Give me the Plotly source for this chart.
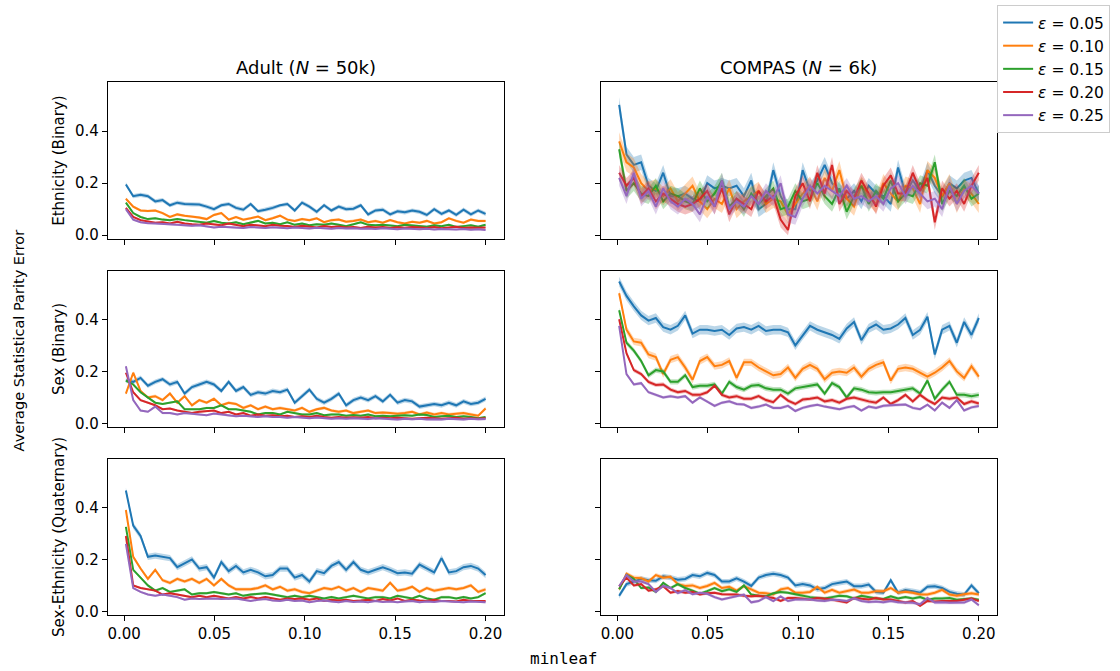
import plotly.graph_objects as go

# minleaf sweep: 50 evenly spaced settings from 0.001 to 0.2
MINLEAF = [round(0.001 + i * 0.199 / 49, 5) for i in range(50)]

EPSILONS = ["0.05", "0.10", "0.15", "0.20", "0.25"]
COLORS = ["#1f77b4", "#ff7f0e", "#2ca02c", "#d62728", "#9467bd"]
DATASETS = ["Adult (<i>N</i> = 50k)", "COMPAS (<i>N</i> = 6k)"]
ATTRIBUTES = ["Ethnicity (Binary)", "Sex (Binary)", "Sex-Ethnicity (Quaternary)"]
X_TICKS = [0.0, 0.05, 0.10, 0.15, 0.20]
Y_TICKS = [0.0, 0.2, 0.4]

# ---------------- Adult, Ethnicity (Binary) ----------------
ADULT_ETH_005 = [0.195, 0.150, 0.155, 0.150, 0.130, 0.135, 0.115, 0.125, 0.120, 0.118,
                 0.118, 0.110, 0.100, 0.115, 0.120, 0.105, 0.098, 0.120, 0.092, 0.098,
                 0.105, 0.115, 0.120, 0.095, 0.125, 0.110, 0.090, 0.115, 0.095, 0.110,
                 0.100, 0.102, 0.115, 0.080, 0.095, 0.098, 0.080, 0.092, 0.088, 0.095,
                 0.090, 0.078, 0.100, 0.082, 0.095, 0.078, 0.098, 0.080, 0.095, 0.082]
ADULT_ETH_010 = [0.140, 0.110, 0.095, 0.093, 0.095, 0.085, 0.070, 0.080, 0.075, 0.072,
                 0.068, 0.062, 0.078, 0.085, 0.060, 0.070, 0.060, 0.065, 0.072, 0.058,
                 0.065, 0.075, 0.060, 0.055, 0.062, 0.058, 0.065, 0.050, 0.058, 0.060,
                 0.052, 0.055, 0.060, 0.050, 0.055, 0.048, 0.058, 0.050, 0.045, 0.052,
                 0.048, 0.055, 0.045, 0.050, 0.065, 0.055, 0.048, 0.060, 0.055, 0.055]
ADULT_ETH_015 = [0.125, 0.085, 0.070, 0.062, 0.065, 0.060, 0.058, 0.062, 0.058, 0.055,
                 0.050, 0.048, 0.055, 0.048, 0.045, 0.050, 0.042, 0.048, 0.055, 0.045,
                 0.048, 0.042, 0.050, 0.040, 0.045, 0.038, 0.042, 0.040, 0.045, 0.040,
                 0.035, 0.042, 0.050, 0.040, 0.038, 0.040, 0.038, 0.035, 0.040, 0.038,
                 0.035, 0.033, 0.038, 0.035, 0.040, 0.032, 0.035, 0.038, 0.033, 0.040]
ADULT_ETH_020 = [0.105, 0.070, 0.058, 0.052, 0.048, 0.050, 0.045, 0.052, 0.045, 0.042,
                 0.040, 0.045, 0.042, 0.038, 0.045, 0.040, 0.035, 0.040, 0.038, 0.035,
                 0.040, 0.036, 0.035, 0.032, 0.036, 0.033, 0.030, 0.035, 0.032, 0.034,
                 0.030, 0.032, 0.028, 0.033, 0.030, 0.032, 0.028, 0.031, 0.029, 0.032,
                 0.030, 0.028, 0.032, 0.027, 0.030, 0.033, 0.028, 0.030, 0.029, 0.030]
ADULT_ETH_025 = [0.100, 0.060, 0.050, 0.046, 0.045, 0.044, 0.042, 0.040, 0.038, 0.036,
                 0.038, 0.035, 0.030, 0.033, 0.032, 0.030, 0.028, 0.032, 0.030, 0.028,
                 0.031, 0.029, 0.027, 0.030, 0.028, 0.026, 0.029, 0.027, 0.025, 0.028,
                 0.026, 0.027, 0.025, 0.026, 0.024, 0.027, 0.025, 0.023, 0.026, 0.024,
                 0.023, 0.025, 0.022, 0.024, 0.023, 0.022, 0.024, 0.021, 0.023, 0.020]
ADULT_ETH_BAND = [0.008, 0.005, 0.004, 0.004, 0.004]

# ---------------- COMPAS, Ethnicity (Binary) ----------------
COMPAS_ETH_005 = [0.50, 0.31, 0.27, 0.28, 0.19, 0.17, 0.24, 0.15, 0.15, 0.16,
                  0.14, 0.13, 0.20, 0.18, 0.19, 0.18, 0.19, 0.15, 0.21, 0.10,
                  0.12, 0.25, 0.15, 0.10, 0.10, 0.25, 0.17, 0.21, 0.27, 0.20,
                  0.17, 0.14, 0.17, 0.13, 0.19, 0.16, 0.15, 0.12, 0.26, 0.16,
                  0.21, 0.17, 0.25, 0.19, 0.15, 0.20, 0.18, 0.21, 0.22, 0.16]
COMPAS_ETH_010 = [0.36, 0.28, 0.26, 0.20, 0.17, 0.18, 0.15, 0.18, 0.13, 0.16,
                  0.19, 0.13, 0.10, 0.14, 0.12, 0.18, 0.10, 0.13, 0.15, 0.17,
                  0.12, 0.14, 0.13, 0.08, 0.12, 0.16, 0.19, 0.13, 0.22, 0.17,
                  0.25, 0.14, 0.11, 0.19, 0.15, 0.12, 0.20, 0.16, 0.13, 0.19,
                  0.18, 0.12, 0.25, 0.22, 0.15, 0.20, 0.12, 0.18, 0.16, 0.12]
COMPAS_ETH_015 = [0.33, 0.17, 0.20, 0.16, 0.15, 0.19, 0.13, 0.16, 0.15, 0.13,
                  0.12, 0.18, 0.13, 0.16, 0.21, 0.11, 0.14, 0.10, 0.16, 0.12,
                  0.15, 0.18, 0.10, 0.11, 0.17, 0.13, 0.14, 0.20, 0.15, 0.12,
                  0.18, 0.09, 0.15, 0.19, 0.12, 0.17, 0.14, 0.21, 0.13, 0.16,
                  0.15, 0.20, 0.19, 0.28, 0.12, 0.17, 0.15, 0.19, 0.14, 0.16]
COMPAS_ETH_020 = [0.24, 0.19, 0.22, 0.15, 0.18, 0.13, 0.16, 0.14, 0.12, 0.11,
                  0.12, 0.14, 0.17, 0.11, 0.18, 0.08, 0.14, 0.12, 0.10, 0.17,
                  0.13, 0.15, 0.06, 0.02, 0.15, 0.20, 0.13, 0.24, 0.16, 0.27,
                  0.12, 0.17, 0.14, 0.21, 0.16, 0.11, 0.19, 0.23, 0.16, 0.16,
                  0.24, 0.17, 0.22, 0.05, 0.18, 0.14, 0.17, 0.12, 0.19, 0.24]
COMPAS_ETH_025 = [0.22, 0.15, 0.24, 0.14, 0.17, 0.11, 0.18, 0.13, 0.11, 0.14,
                  0.12, 0.08, 0.15, 0.11, 0.21, 0.10, 0.13, 0.11, 0.15, 0.12,
                  0.17, 0.14, 0.20, 0.08, 0.07, 0.14, 0.19, 0.16, 0.19, 0.17,
                  0.15, 0.19, 0.14, 0.15, 0.13, 0.15, 0.12, 0.18, 0.20, 0.15,
                  0.19, 0.16, 0.13, 0.14, 0.10, 0.19, 0.12, 0.17, 0.19, 0.16]
COMPAS_ETH_BAND = [0.030, 0.035, 0.030, 0.030, 0.030]

# ---------------- Adult, Sex (Binary) ----------------
ADULT_SEX_005 = [0.165, 0.160, 0.175, 0.145, 0.160, 0.170, 0.150, 0.160, 0.115, 0.140,
                 0.150, 0.160, 0.150, 0.125, 0.160, 0.125, 0.140, 0.110, 0.120, 0.115,
                 0.125, 0.120, 0.130, 0.080, 0.105, 0.130, 0.095, 0.080, 0.095, 0.115,
                 0.070, 0.090, 0.100, 0.090, 0.105, 0.085, 0.110, 0.080, 0.090, 0.085,
                 0.065, 0.070, 0.075, 0.070, 0.080, 0.070, 0.085, 0.075, 0.080, 0.095]
ADULT_SEX_010 = [0.115, 0.195, 0.125, 0.100, 0.105, 0.090, 0.115, 0.080, 0.105, 0.070,
                 0.090, 0.080, 0.095, 0.070, 0.080, 0.075, 0.060, 0.070, 0.055, 0.065,
                 0.055, 0.060, 0.055, 0.050, 0.060, 0.045, 0.055, 0.060, 0.050, 0.045,
                 0.050, 0.040, 0.045, 0.050, 0.040, 0.042, 0.040, 0.038, 0.040, 0.045,
                 0.035, 0.042, 0.035, 0.040, 0.035, 0.038, 0.040, 0.035, 0.030, 0.058]
ADULT_SEX_015 = [0.165, 0.150, 0.120, 0.100, 0.080, 0.075, 0.080, 0.085, 0.055, 0.055,
                 0.055, 0.060, 0.060, 0.070, 0.055, 0.055, 0.050, 0.045, 0.035, 0.040,
                 0.040, 0.035, 0.045, 0.040, 0.035, 0.035, 0.040, 0.032, 0.035, 0.035,
                 0.030, 0.033, 0.030, 0.035, 0.028, 0.030, 0.028, 0.030, 0.032, 0.030,
                 0.035, 0.033, 0.025, 0.028, 0.030, 0.025, 0.028, 0.025, 0.020, 0.025]
ADULT_SEX_020 = [0.195, 0.120, 0.090, 0.080, 0.070, 0.055, 0.058, 0.050, 0.045, 0.040,
                 0.045, 0.048, 0.050, 0.040, 0.045, 0.035, 0.040, 0.030, 0.035, 0.030,
                 0.032, 0.028, 0.030, 0.025, 0.028, 0.025, 0.030, 0.025, 0.022, 0.025,
                 0.022, 0.024, 0.022, 0.025, 0.020, 0.022, 0.020, 0.022, 0.020, 0.018,
                 0.020, 0.022, 0.020, 0.018, 0.020, 0.022, 0.018, 0.020, 0.018, 0.020]
ADULT_SEX_025 = [0.220, 0.090, 0.050, 0.045, 0.065, 0.040, 0.040, 0.035, 0.040, 0.038,
                 0.035, 0.032, 0.038, 0.035, 0.030, 0.028, 0.030, 0.028, 0.025, 0.028,
                 0.025, 0.025, 0.022, 0.025, 0.022, 0.020, 0.023, 0.020, 0.018, 0.020,
                 0.018, 0.020, 0.018, 0.017, 0.020, 0.018, 0.017, 0.015, 0.018, 0.016,
                 0.018, 0.015, 0.016, 0.015, 0.018, 0.016, 0.015, 0.018, 0.016, 0.017]
ADULT_SEX_BAND = [0.009, 0.006, 0.004, 0.004, 0.004]

# ---------------- COMPAS, Sex (Binary) ----------------
COMPAS_SEX_005 = [0.545, 0.490, 0.450, 0.415, 0.395, 0.405, 0.370, 0.360, 0.375, 0.415,
                  0.345, 0.360, 0.360, 0.355, 0.360, 0.340, 0.365, 0.370, 0.360, 0.375,
                  0.355, 0.360, 0.360, 0.350, 0.300, 0.340, 0.375, 0.360, 0.350, 0.340,
                  0.325, 0.365, 0.390, 0.320, 0.365, 0.380, 0.360, 0.365, 0.380, 0.405,
                  0.340, 0.360, 0.410, 0.265, 0.360, 0.375, 0.310, 0.390, 0.340, 0.405]
COMPAS_SEX_010 = [0.500, 0.360, 0.315, 0.310, 0.265, 0.255, 0.190, 0.245, 0.255, 0.215,
                  0.168, 0.240, 0.255, 0.220, 0.225, 0.240, 0.175, 0.235, 0.235, 0.215,
                  0.200, 0.185, 0.190, 0.215, 0.175, 0.210, 0.225, 0.210, 0.170, 0.195,
                  0.200, 0.195, 0.215, 0.180, 0.210, 0.225, 0.235, 0.165, 0.210, 0.215,
                  0.210, 0.195, 0.180, 0.195, 0.215, 0.240, 0.200, 0.175, 0.220, 0.180]
COMPAS_SEX_015 = [0.435, 0.310, 0.280, 0.240, 0.185, 0.205, 0.200, 0.160, 0.160, 0.185,
                  0.140, 0.145, 0.145, 0.150, 0.115, 0.160, 0.140, 0.130, 0.145, 0.148,
                  0.135, 0.130, 0.130, 0.115, 0.135, 0.140, 0.145, 0.150, 0.115, 0.155,
                  0.140, 0.100, 0.135, 0.130, 0.120, 0.118, 0.120, 0.120, 0.125, 0.130,
                  0.135, 0.115, 0.165, 0.095, 0.130, 0.160, 0.110, 0.110, 0.105, 0.110]
COMPAS_SEX_020 = [0.400, 0.270, 0.205, 0.190, 0.160, 0.148, 0.150, 0.130, 0.120, 0.125,
                  0.110, 0.110, 0.120, 0.145, 0.110, 0.100, 0.105, 0.095, 0.095, 0.105,
                  0.090, 0.082, 0.110, 0.088, 0.075, 0.092, 0.095, 0.100, 0.085, 0.090,
                  0.080, 0.095, 0.100, 0.092, 0.085, 0.080, 0.100, 0.075, 0.090, 0.110,
                  0.085, 0.110, 0.090, 0.075, 0.100, 0.095, 0.100, 0.075, 0.085, 0.077]
COMPAS_SEX_025 = [0.375, 0.190, 0.150, 0.155, 0.120, 0.110, 0.100, 0.105, 0.100, 0.105,
                  0.080, 0.100, 0.085, 0.068, 0.080, 0.085, 0.075, 0.073, 0.060, 0.065,
                  0.073, 0.060, 0.060, 0.068, 0.048, 0.060, 0.067, 0.072, 0.065, 0.060,
                  0.055, 0.062, 0.067, 0.050, 0.065, 0.060, 0.068, 0.070, 0.072, 0.073,
                  0.060, 0.055, 0.072, 0.050, 0.080, 0.060, 0.090, 0.050, 0.062, 0.067]
COMPAS_SEX_BAND = [0.018, 0.014, 0.010, 0.008, 0.006]

# ---------------- Adult, Sex-Ethnicity (Quaternary) ----------------
ADULT_SEXETH_005 = [0.465, 0.330, 0.290, 0.210, 0.215, 0.210, 0.205, 0.170, 0.185, 0.200,
                    0.165, 0.170, 0.130, 0.190, 0.155, 0.175, 0.150, 0.160, 0.150, 0.135,
                    0.140, 0.165, 0.165, 0.130, 0.140, 0.115, 0.155, 0.147, 0.175, 0.190,
                    0.160, 0.190, 0.160, 0.150, 0.160, 0.170, 0.160, 0.147, 0.150, 0.145,
                    0.180, 0.165, 0.150, 0.205, 0.150, 0.155, 0.170, 0.175, 0.165, 0.140]
ADULT_SEXETH_010 = [0.390, 0.210, 0.165, 0.125, 0.160, 0.120, 0.110, 0.125, 0.115, 0.125,
                    0.110, 0.125, 0.100, 0.125, 0.100, 0.085, 0.085, 0.085, 0.090, 0.100,
                    0.085, 0.095, 0.080, 0.085, 0.075, 0.070, 0.080, 0.090, 0.085, 0.095,
                    0.080, 0.090, 0.075, 0.090, 0.085, 0.080, 0.110, 0.080, 0.085, 0.095,
                    0.075, 0.090, 0.080, 0.085, 0.090, 0.085, 0.090, 0.100, 0.075, 0.085]
ADULT_SEXETH_015 = [0.325, 0.160, 0.130, 0.100, 0.080, 0.090, 0.075, 0.080, 0.085, 0.065,
                    0.070, 0.070, 0.075, 0.070, 0.065, 0.070, 0.060, 0.065, 0.068, 0.070,
                    0.065, 0.060, 0.055, 0.060, 0.055, 0.060, 0.055, 0.050, 0.055, 0.050,
                    0.055, 0.060, 0.055, 0.050, 0.055, 0.055, 0.050, 0.060, 0.055, 0.050,
                    0.060, 0.050, 0.045, 0.055, 0.055, 0.050, 0.055, 0.050, 0.055, 0.070]
ADULT_SEXETH_020 = [0.290, 0.100, 0.090, 0.085, 0.080, 0.065, 0.070, 0.065, 0.060, 0.055,
                    0.060, 0.055, 0.060, 0.055, 0.050, 0.055, 0.050, 0.055, 0.050, 0.055,
                    0.050, 0.045, 0.050, 0.048, 0.050, 0.045, 0.050, 0.040, 0.045, 0.042,
                    0.045, 0.040, 0.042, 0.045, 0.040, 0.048, 0.042, 0.050, 0.040, 0.045,
                    0.042, 0.040, 0.045, 0.040, 0.040, 0.038, 0.045, 0.040, 0.040, 0.040]
ADULT_SEXETH_025 = [0.260, 0.090, 0.075, 0.065, 0.060, 0.065, 0.060, 0.055, 0.045, 0.050,
                    0.048, 0.050, 0.050, 0.048, 0.050, 0.050, 0.045, 0.040, 0.045, 0.048,
                    0.042, 0.040, 0.045, 0.040, 0.042, 0.035, 0.040, 0.042, 0.038, 0.035,
                    0.040, 0.036, 0.038, 0.035, 0.040, 0.036, 0.038, 0.035, 0.038, 0.040,
                    0.035, 0.038, 0.036, 0.040, 0.038, 0.036, 0.035, 0.038, 0.036, 0.035]
ADULT_SEXETH_BAND = [0.012, 0.007, 0.005, 0.004, 0.004]

# ---------------- COMPAS, Sex-Ethnicity (Quaternary) ----------------
COMPAS_SEXETH_005 = [0.060, 0.105, 0.115, 0.125, 0.120, 0.118, 0.135, 0.130, 0.122, 0.125,
                     0.140, 0.135, 0.148, 0.140, 0.115, 0.115, 0.127, 0.115, 0.098, 0.130,
                     0.140, 0.145, 0.140, 0.130, 0.100, 0.105, 0.100, 0.085, 0.090, 0.105,
                     0.110, 0.115, 0.097, 0.097, 0.103, 0.075, 0.072, 0.120, 0.072, 0.082,
                     0.078, 0.072, 0.095, 0.097, 0.090, 0.075, 0.068, 0.065, 0.100, 0.070]
COMPAS_SEXETH_010 = [0.085, 0.145, 0.130, 0.128, 0.115, 0.140, 0.130, 0.133, 0.105, 0.098,
                     0.100, 0.090, 0.098, 0.110, 0.090, 0.095, 0.080, 0.097, 0.085, 0.072,
                     0.070, 0.065, 0.085, 0.090, 0.072, 0.072, 0.075, 0.095, 0.072, 0.083,
                     0.072, 0.078, 0.084, 0.072, 0.072, 0.078, 0.078, 0.090, 0.072, 0.076,
                     0.072, 0.065, 0.065, 0.072, 0.083, 0.065, 0.060, 0.066, 0.070, 0.065]
COMPAS_SEXETH_015 = [0.085, 0.140, 0.125, 0.090, 0.092, 0.075, 0.110, 0.090, 0.105, 0.090,
                     0.080, 0.068, 0.078, 0.090, 0.078, 0.085, 0.075, 0.100, 0.065, 0.060,
                     0.058, 0.070, 0.075, 0.072, 0.066, 0.060, 0.055, 0.052, 0.050, 0.055,
                     0.060, 0.058, 0.050, 0.060, 0.055, 0.050, 0.048, 0.058, 0.050, 0.055,
                     0.050, 0.055, 0.045, 0.050, 0.050, 0.052, 0.045, 0.048, 0.050, 0.045]
COMPAS_SEXETH_020 = [0.097, 0.130, 0.100, 0.105, 0.080, 0.085, 0.097, 0.072, 0.078, 0.072,
                     0.075, 0.065, 0.070, 0.072, 0.066, 0.065, 0.065, 0.060, 0.058, 0.060,
                     0.055, 0.052, 0.040, 0.052, 0.052, 0.050, 0.046, 0.052, 0.050, 0.046,
                     0.040, 0.035, 0.052, 0.048, 0.046, 0.052, 0.046, 0.046, 0.040, 0.034,
                     0.040, 0.022, 0.040, 0.038, 0.040, 0.040, 0.040, 0.045, 0.050, 0.040]
COMPAS_SEXETH_025 = [0.097, 0.140, 0.115, 0.115, 0.105, 0.075, 0.098, 0.090, 0.070, 0.082,
                     0.066, 0.072, 0.068, 0.055, 0.046, 0.052, 0.058, 0.065, 0.035, 0.040,
                     0.055, 0.040, 0.058, 0.040, 0.046, 0.045, 0.046, 0.042, 0.040, 0.045,
                     0.044, 0.040, 0.050, 0.040, 0.036, 0.038, 0.035, 0.040, 0.035, 0.034,
                     0.033, 0.028, 0.052, 0.034, 0.035, 0.033, 0.034, 0.034, 0.046, 0.024]
COMPAS_SEXETH_BAND = [0.010, 0.008, 0.006, 0.006, 0.006]

# panel order: row by row, Adult on the left, COMPAS on the right
PANELS = [
    ([ADULT_ETH_005, ADULT_ETH_010, ADULT_ETH_015, ADULT_ETH_020, ADULT_ETH_025], ADULT_ETH_BAND),
    ([COMPAS_ETH_005, COMPAS_ETH_010, COMPAS_ETH_015, COMPAS_ETH_020, COMPAS_ETH_025], COMPAS_ETH_BAND),
    ([ADULT_SEX_005, ADULT_SEX_010, ADULT_SEX_015, ADULT_SEX_020, ADULT_SEX_025], ADULT_SEX_BAND),
    ([COMPAS_SEX_005, COMPAS_SEX_010, COMPAS_SEX_015, COMPAS_SEX_020, COMPAS_SEX_025], COMPAS_SEX_BAND),
    ([ADULT_SEXETH_005, ADULT_SEXETH_010, ADULT_SEXETH_015, ADULT_SEXETH_020, ADULT_SEXETH_025], ADULT_SEXETH_BAND),
    ([COMPAS_SEXETH_005, COMPAS_SEXETH_010, COMPAS_SEXETH_015, COMPAS_SEXETH_020, COMPAS_SEXETH_025], COMPAS_SEXETH_BAND),
]

W, H = 1120, 671
FONT = "DejaVu Sans"
COL_PX = [(107, 503), (600.7, 996.7)]
ROW_PX = [(83, 241), (272.7, 430.7), (462.3, 620)]
X_RANGE = [-0.00895, 0.20995]
Y_RANGE = [-0.0152, 0.5867]


def rgba(hex_color, alpha):
    h = hex_color.lstrip("#")
    r, g, b = int(h[0:2], 16), int(h[2:4], 16), int(h[4:6], 16)
    return f"rgba({r},{g},{b},{alpha})"


fig = go.Figure()

for p, (series_list, bands) in enumerate(PANELS):
    k = p + 1
    xa = "x" if k == 1 else f"x{k}"
    ya = "y" if k == 1 else f"y{k}"
    for s, (vals, color, eps) in enumerate(zip(series_list, COLORS, EPSILONS)):
        half = bands[s]
        upper = [v + half for v in vals]
        lower = [max(v - half, 0.0) for v in vals]
        fig.add_trace(go.Scatter(
            x=MINLEAF + MINLEAF[::-1], y=upper + lower[::-1],
            fill="toself", fillcolor=rgba(color, 0.3),
            line=dict(width=0), mode="lines", hoverinfo="skip",
            showlegend=False, legendgroup=eps, xaxis=xa, yaxis=ya,
        ))
        fig.add_trace(go.Scatter(
            x=MINLEAF, y=vals, mode="lines",
            line=dict(color=color, width=2),
            name=f"<i>ε</i> = {eps}", legendgroup=eps,
            showlegend=(p == 0), xaxis=xa, yaxis=ya,
        ))

axis_common = dict(
    showline=True, mirror=True, linecolor="black", linewidth=1,
    ticks="outside", ticklen=5, tickwidth=1, tickcolor="black",
    showgrid=False, zeroline=False,
    tickfont=dict(family=FONT, size=15, color="black"),
)

layout_axes = {}
for p in range(6):
    k = p + 1
    row, col = divmod(p, 2)
    x0, x1 = COL_PX[col]
    y0, y1 = ROW_PX[row]
    xkey = "xaxis" if k == 1 else f"xaxis{k}"
    ykey = "yaxis" if k == 1 else f"yaxis{k}"
    layout_axes[xkey] = dict(
        axis_common, domain=[x0 / W, x1 / W], range=X_RANGE,
        anchor="y" if k == 1 else f"y{k}",
        tickvals=X_TICKS, tickformat=".2f", showticklabels=(row == 2),
    )
    layout_axes[ykey] = dict(
        axis_common, domain=[1 - y1 / H, 1 - y0 / H], range=Y_RANGE,
        anchor="x" if k == 1 else f"x{k}",
        tickvals=Y_TICKS, tickformat=".1f", showticklabels=(col == 0),
    )

annotations = []
for col, title in enumerate(DATASETS):
    x0, x1 = COL_PX[col]
    annotations.append(dict(
        text=title, x=(x0 + x1) / 2 / W, y=1 - 68 / H, xref="paper", yref="paper",
        xanchor="center", yanchor="middle", showarrow=False,
        font=dict(family=FONT, size=18, color="black"),
    ))
for row, label in enumerate(ATTRIBUTES):
    y0, y1 = ROW_PX[row]
    annotations.append(dict(
        text=label, x=58 / W, y=1 - (y0 + y1) / 2 / H, xref="paper", yref="paper",
        xanchor="center", yanchor="middle", textangle=-90, showarrow=False,
        font=dict(family=FONT, size=15, color="black"),
    ))
annotations.append(dict(
    text="Average Statistical Parity Error", x=18 / W, y=1 - 343 / H,
    xref="paper", yref="paper", xanchor="center", yanchor="middle",
    textangle=-90, showarrow=False, font=dict(family=FONT, size=14.5, color="black"),
))
annotations.append(dict(
    text="minleaf", x=563 / W, y=1 - 663 / H, xref="paper", yref="paper",
    xanchor="center", yanchor="middle", showarrow=False,
    font=dict(family="DejaVu Sans Mono", size=16, color="black"),
))

fig.update_layout(
    width=W, height=H,
    margin=dict(l=0, r=0, t=0, b=0),
    paper_bgcolor="white", plot_bgcolor="white",
    annotations=annotations,
    legend=dict(
        x=997 / W, y=1 - 5 / H, xanchor="left", yanchor="top",
        bgcolor="rgba(255,255,255,0.8)", bordercolor="#cccccc", borderwidth=1,
        font=dict(family=FONT, size=15.5, color="black"),
        tracegroupgap=3, traceorder="normal",
    ),
    showlegend=True,
    **layout_axes,
)

fig.write_html("out.html")
